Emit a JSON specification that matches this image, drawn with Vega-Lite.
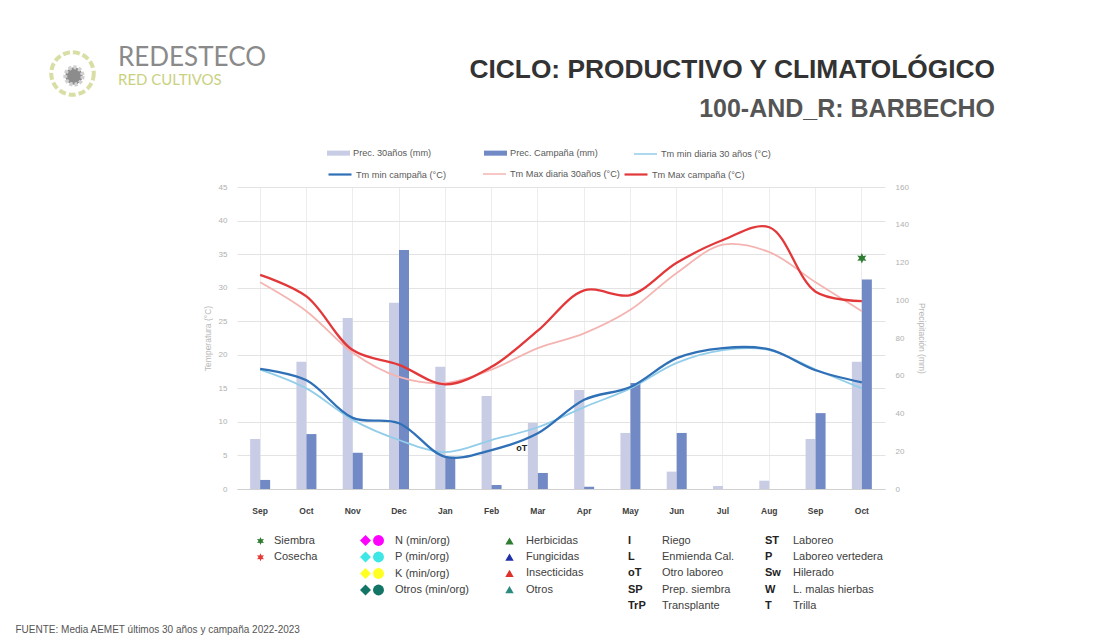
{
  "$schema": "https://vega.github.io/schema/vega-lite/v6.json",
  "width": 648,
  "height": 302,
  "autosize": {"type": "none"},
  "padding": {"left": 237, "top": 187, "right": 231, "bottom": 152},
  "background": "white",
  "config": {"view": {"stroke": null}, "font": "Liberation Sans, sans-serif"},
  "title": {
    "text": "CICLO: PRODUCTIVO Y CLIMATOLÓGICO",
    "subtitle": "100-AND_R: BARBECHO",
    "anchor": "end",
    "frame": "group",
    "dx": 110,
    "offset": -72,
    "font": "Liberation Sans, sans-serif",
    "fontSize": 26.3,
    "fontWeight": "bold",
    "color": "#333333",
    "subtitleFont": "Liberation Sans, sans-serif",
    "subtitleFontSize": 25,
    "subtitleFontWeight": "bold",
    "subtitleColor": "#555555",
    "subtitlePadding": 14
  },
  "datasets": {
    "prec": [
      {"m": "Sep-22", "serie": "Prec. 30años (mm)", "mm": 26.5},
      {"m": "Oct-22", "serie": "Prec. 30años (mm)", "mm": 67.4},
      {"m": "Nov-22", "serie": "Prec. 30años (mm)", "mm": 90.6},
      {"m": "Dec-22", "serie": "Prec. 30años (mm)", "mm": 98.7},
      {"m": "Jan-23", "serie": "Prec. 30años (mm)", "mm": 64.8},
      {"m": "Feb-23", "serie": "Prec. 30años (mm)", "mm": 49.3},
      {"m": "Mar-23", "serie": "Prec. 30años (mm)", "mm": 35.0},
      {"m": "Apr-23", "serie": "Prec. 30años (mm)", "mm": 52.5},
      {"m": "May-23", "serie": "Prec. 30años (mm)", "mm": 29.7},
      {"m": "Jun-23", "serie": "Prec. 30años (mm)", "mm": 9.2},
      {"m": "Jul-23", "serie": "Prec. 30años (mm)", "mm": 1.6},
      {"m": "Aug-23", "serie": "Prec. 30años (mm)", "mm": 4.4},
      {"m": "Sep-23", "serie": "Prec. 30años (mm)", "mm": 26.5},
      {"m": "Oct-23", "serie": "Prec. 30años (mm)", "mm": 67.4},
      {"m": "Sep-22", "serie": "Prec. Campaña (mm)", "mm": 4.8},
      {"m": "Oct-22", "serie": "Prec. Campaña (mm)", "mm": 29.1},
      {"m": "Nov-22", "serie": "Prec. Campaña (mm)", "mm": 19.2},
      {"m": "Dec-22", "serie": "Prec. Campaña (mm)", "mm": 126.6},
      {"m": "Jan-23", "serie": "Prec. Campaña (mm)", "mm": 17.1},
      {"m": "Feb-23", "serie": "Prec. Campaña (mm)", "mm": 2.1},
      {"m": "Mar-23", "serie": "Prec. Campaña (mm)", "mm": 8.5},
      {"m": "Apr-23", "serie": "Prec. Campaña (mm)", "mm": 1.2},
      {"m": "May-23", "serie": "Prec. Campaña (mm)", "mm": 56.2},
      {"m": "Jun-23", "serie": "Prec. Campaña (mm)", "mm": 29.7},
      {"m": "Jul-23", "serie": "Prec. Campaña (mm)", "mm": 0},
      {"m": "Aug-23", "serie": "Prec. Campaña (mm)", "mm": 0},
      {"m": "Sep-23", "serie": "Prec. Campaña (mm)", "mm": 40.2},
      {"m": "Oct-23", "serie": "Prec. Campaña (mm)", "mm": 111.0}
    ],
    "temp": [
      {"m": "Sep-22", "serie": "Tm min diaria 30 años (°C)", "t": 17.8},
      {"m": "Oct-22", "serie": "Tm min diaria 30 años (°C)", "t": 15.0},
      {"m": "Nov-22", "serie": "Tm min diaria 30 años (°C)", "t": 10.3},
      {"m": "Dec-22", "serie": "Tm min diaria 30 años (°C)", "t": 7.3},
      {"m": "Jan-23", "serie": "Tm min diaria 30 años (°C)", "t": 5.5},
      {"m": "Feb-23", "serie": "Tm min diaria 30 años (°C)", "t": 7.3},
      {"m": "Mar-23", "serie": "Tm min diaria 30 años (°C)", "t": 9.2},
      {"m": "Apr-23", "serie": "Tm min diaria 30 años (°C)", "t": 12.2},
      {"m": "May-23", "serie": "Tm min diaria 30 años (°C)", "t": 15.0},
      {"m": "Jun-23", "serie": "Tm min diaria 30 años (°C)", "t": 18.8},
      {"m": "Jul-23", "serie": "Tm min diaria 30 años (°C)", "t": 20.7},
      {"m": "Aug-23", "serie": "Tm min diaria 30 años (°C)", "t": 20.7},
      {"m": "Sep-23", "serie": "Tm min diaria 30 años (°C)", "t": 17.8},
      {"m": "Oct-23", "serie": "Tm min diaria 30 años (°C)", "t": 15.0},
      {"m": "Sep-22", "serie": "Tm min campaña (°C)", "t": 17.9},
      {"m": "Oct-22", "serie": "Tm min campaña (°C)", "t": 16.2},
      {"m": "Nov-22", "serie": "Tm min campaña (°C)", "t": 10.6},
      {"m": "Dec-22", "serie": "Tm min campaña (°C)", "t": 9.8},
      {"m": "Jan-23", "serie": "Tm min campaña (°C)", "t": 4.8},
      {"m": "Feb-23", "serie": "Tm min campaña (°C)", "t": 5.8},
      {"m": "Mar-23", "serie": "Tm min campaña (°C)", "t": 8.3},
      {"m": "Apr-23", "serie": "Tm min campaña (°C)", "t": 13.3},
      {"m": "May-23", "serie": "Tm min campaña (°C)", "t": 15.2},
      {"m": "Jun-23", "serie": "Tm min campaña (°C)", "t": 19.5},
      {"m": "Jul-23", "serie": "Tm min campaña (°C)", "t": 21.0},
      {"m": "Aug-23", "serie": "Tm min campaña (°C)", "t": 20.8},
      {"m": "Sep-23", "serie": "Tm min campaña (°C)", "t": 17.7},
      {"m": "Oct-23", "serie": "Tm min campaña (°C)", "t": 15.9},
      {"m": "Sep-22", "serie": "Tm Max diaria 30años (°C)", "t": 30.8},
      {"m": "Oct-22", "serie": "Tm Max diaria 30años (°C)", "t": 26.5},
      {"m": "Nov-22", "serie": "Tm Max diaria 30años (°C)", "t": 20.3},
      {"m": "Dec-22", "serie": "Tm Max diaria 30años (°C)", "t": 16.7},
      {"m": "Jan-23", "serie": "Tm Max diaria 30años (°C)", "t": 15.8},
      {"m": "Feb-23", "serie": "Tm Max diaria 30años (°C)", "t": 17.8},
      {"m": "Mar-23", "serie": "Tm Max diaria 30años (°C)", "t": 21.0},
      {"m": "Apr-23", "serie": "Tm Max diaria 30años (°C)", "t": 23.2},
      {"m": "May-23", "serie": "Tm Max diaria 30años (°C)", "t": 26.7},
      {"m": "Jun-23", "serie": "Tm Max diaria 30años (°C)", "t": 32.2},
      {"m": "Jul-23", "serie": "Tm Max diaria 30años (°C)", "t": 36.4},
      {"m": "Aug-23", "serie": "Tm Max diaria 30años (°C)", "t": 35.3},
      {"m": "Sep-23", "serie": "Tm Max diaria 30años (°C)", "t": 30.8},
      {"m": "Oct-23", "serie": "Tm Max diaria 30años (°C)", "t": 26.5},
      {"m": "Sep-22", "serie": "Tm Max campaña (°C)", "t": 31.9},
      {"m": "Oct-22", "serie": "Tm Max campaña (°C)", "t": 28.7},
      {"m": "Nov-22", "serie": "Tm Max campaña (°C)", "t": 20.7},
      {"m": "Dec-22", "serie": "Tm Max campaña (°C)", "t": 18.5},
      {"m": "Jan-23", "serie": "Tm Max campaña (°C)", "t": 15.6},
      {"m": "Feb-23", "serie": "Tm Max campaña (°C)", "t": 18.2},
      {"m": "Mar-23", "serie": "Tm Max campaña (°C)", "t": 23.6},
      {"m": "Apr-23", "serie": "Tm Max campaña (°C)", "t": 29.6},
      {"m": "May-23", "serie": "Tm Max campaña (°C)", "t": 28.9},
      {"m": "Jun-23", "serie": "Tm Max campaña (°C)", "t": 33.7},
      {"m": "Jul-23", "serie": "Tm Max campaña (°C)", "t": 37.1},
      {"m": "Aug-23", "serie": "Tm Max campaña (°C)", "t": 39.0},
      {"m": "Sep-23", "serie": "Tm Max campaña (°C)", "t": 29.4},
      {"m": "Oct-23", "serie": "Tm Max campaña (°C)", "t": 28.0}
    ]
  },
  "resolve": {"scale": {"y": "independent", "fill": "independent", "stroke": "independent", "shape": "independent"}},
  "layer": [
    {
      "data": {"name": "prec"},
      "mark": {"type": "bar"},
      "encoding": {
        "x": {
          "field": "m", "type": "ordinal",
          "scale": {"type": "band", "domain": ["Sep-22","Oct-22","Nov-22","Dec-22","Jan-23","Feb-23","Mar-23","Apr-23","May-23","Jun-23","Jul-23","Aug-23","Sep-23","Oct-23"], "paddingInner": 0.568, "paddingOuter": 0.284},
          "axis": {
            "labelExpr": "slice(datum.value, 0, 3)", "labelAngle": 0, "labelFontWeight": "bold", "labelColor": "#404040", "labelFontSize": 8.5,
            "ticks": false, "domainColor": "#d0d0d0", "grid": true, "gridColor": "#ededed", "bandPosition": 0.5, "labelPadding": 17,
            "title": "FUENTE: Media AEMET últimos 30 años y campaña 2022-2023",
            "titleX": -222, "titleY": 143, "titleAlign": "left", "titleAnchor": "start", "titleBaseline": "alphabetic",
            "titleFontSize": 10, "titleColor": "#555555", "titleFontWeight": "normal"
          }
        },
        "xOffset": {"field": "serie", "type": "nominal", "scale": {"domain": ["Prec. 30años (mm)", "Prec. Campaña (mm)"], "paddingInner": 0}},
        "y": {
          "field": "mm", "type": "quantitative",
          "scale": {"domain": [0, 160], "nice": false},
          "axis": {"orient": "right", "values": [0,20,40,60,80,100,120,140,160], "grid": false, "domain": false, "ticks": false,
                   "labelColor": "#b0b0b0", "labelFontSize": 8, "labelPadding": 10,
                   "title": "Precipitación (mm)", "titleColor": "#b8b8b8", "titleFontSize": 8.5, "titleFontWeight": "normal", "titlePadding": 8}
        },
        "fill": {
          "field": "serie", "type": "nominal",
          "scale": {"domain": ["Prec. 30años (mm)", "Prec. Campaña (mm)"], "range": ["#c8cde5", "#7189c4"]},
          "legend": {"orient": "none", "legendX": 90, "legendY": -45.5, "direction": "horizontal", "title": null, "padding": 0,
                     "symbolType": "M-1,-0.22H1V0.22H-1Z", "symbolSize": 529, "symbolStrokeWidth": 0,
                     "labelFontSize": 9.2, "labelColor": "#595959", "labelOffset": 3, "columnPadding": 52}
        }
      }
    },
    {
      "data": {"name": "temp"},
      "transform": [{"filter": "datum.serie === 'Tm min diaria 30 años (°C)'"}],
      "mark": {"type": "line", "interpolate": "catmull-rom", "strokeWidth": 1.8},
      "encoding": {
        "x": {"field": "m", "type": "ordinal"},
        "y": {
          "field": "t", "type": "quantitative", "scale": {"domain": [0, 45], "nice": false},
          "axis": {"orient": "left", "values": [0,5,10,15,20,25,30,35,40,45], "grid": true, "gridColor": "#e3e3e3", "domain": false, "ticks": false,
                   "labelColor": "#b0b0b0", "labelFontSize": 8, "labelPadding": 10,
                   "title": "Temperatura (°C)", "titleColor": "#b8b8b8", "titleFontSize": 8.5, "titleFontWeight": "normal", "titlePadding": 6}
        },
        "stroke": {
          "field": "serie", "type": "nominal",
          "scale": {"domain": ["Tm min diaria 30 años (°C)"], "range": ["#92cdea"]},
          "legend": {"orient": "none", "legendX": 396, "legendY": -45.5, "title": null, "padding": 0, "symbolType": "stroke", "symbolSize": 529, "symbolStrokeWidth": 1.5, "labelFontSize": 9.2, "labelColor": "#595959", "labelOffset": 3}
        }
      }
    },
    {
      "data": {"name": "temp"},
      "transform": [{"filter": "datum.serie === 'Tm Max diaria 30años (°C)'"}],
      "mark": {"type": "line", "interpolate": "catmull-rom", "strokeWidth": 1.8},
      "encoding": {
        "x": {"field": "m", "type": "ordinal"},
        "y": {"field": "t", "type": "quantitative", "scale": {"domain": [0, 45], "nice": false}, "axis": null},
        "stroke": {
          "field": "serie", "type": "nominal",
          "scale": {"domain": ["Tm Max diaria 30años (°C)"], "range": ["#f4b4b2"]},
          "legend": {"orient": "none", "legendX": 245, "legendY": -25.5, "title": null, "padding": 0, "symbolType": "stroke", "symbolSize": 529, "symbolStrokeWidth": 1.5, "labelFontSize": 9.2, "labelColor": "#595959", "labelOffset": 3}
        }
      }
    },
    {
      "data": {"name": "temp"},
      "transform": [{"filter": "datum.serie === 'Tm min campaña (°C)'"}],
      "mark": {"type": "line", "interpolate": "catmull-rom", "strokeWidth": 2.3},
      "encoding": {
        "x": {"field": "m", "type": "ordinal"},
        "y": {"field": "t", "type": "quantitative", "scale": {"domain": [0, 45], "nice": false}, "axis": null},
        "stroke": {
          "field": "serie", "type": "nominal",
          "scale": {"domain": ["Tm min campaña (°C)"], "range": ["#2f70b6"]},
          "legend": {"orient": "none", "legendX": 90, "legendY": -25.5, "title": null, "padding": 0, "symbolType": "stroke", "symbolSize": 529, "symbolStrokeWidth": 2.2, "labelFontSize": 9.2, "labelColor": "#595959", "labelOffset": 3}
        }
      }
    },
    {
      "data": {"name": "temp"},
      "transform": [{"filter": "datum.serie === 'Tm Max campaña (°C)'"}],
      "mark": {"type": "line", "interpolate": "catmull-rom", "strokeWidth": 2.3},
      "encoding": {
        "x": {"field": "m", "type": "ordinal"},
        "y": {"field": "t", "type": "quantitative", "scale": {"domain": [0, 45], "nice": false}, "axis": null},
        "stroke": {
          "field": "serie", "type": "nominal",
          "scale": {"domain": ["Tm Max campaña (°C)"], "range": ["#e2383a"]},
          "legend": {"orient": "none", "legendX": 386, "legendY": -25.5, "title": null, "padding": 0, "symbolType": "stroke", "symbolSize": 529, "symbolStrokeWidth": 2.2, "labelFontSize": 9.2, "labelColor": "#595959", "labelOffset": 3}
        }
      }
    },
    {
      "data": {"values": [{"m": "Oct-23", "evento": "Siembra", "t": 34.4}]},
      "mark": {"type": "point", "filled": true, "size": 110, "opacity": 1, "shape": "M0,-1L0.25,-0.43L0.87,-0.5L0.5,0L0.87,0.5L0.25,0.43L0,1L-0.25,0.43L-0.87,0.5L-0.5,0L-0.87,-0.5L-0.25,-0.43Z"},
      "encoding": {
        "x": {"field": "m", "type": "ordinal"},
        "y": {"field": "t", "type": "quantitative", "scale": {"domain": [0, 45], "nice": false}, "axis": null},
        "fill": {"field": "evento", "type": "nominal", "scale": {"domain": ["Siembra", "Cosecha"], "range": ["#2e7d32", "#e53935"]},
                 "legend": {"orient": "none", "legendX": 18, "legendY": 348.5, "title": null, "padding": 0,
                            "symbolType": "M0,-1L0.25,-0.43L0.87,-0.5L0.5,0L0.87,0.5L0.25,0.43L0,1L-0.25,0.43L-0.87,0.5L-0.5,0L-0.87,-0.5L-0.25,-0.43Z",
                            "symbolSize": 64, "symbolStrokeWidth": 0, "symbolOpacity": 1, "labelFontSize": 11, "labelColor": "#404040", "labelOffset": 8, "rowPadding": 4.2}}
      }
    },
    {
      "data": {"values": [{"m": "Mar-23", "cod": "oT", "t": 6.1}]},
      "mark": {"type": "text", "fontWeight": "bold", "fontSize": 9, "dx": -16, "color": "#222222"},
      "encoding": {
        "x": {"field": "m", "type": "ordinal"},
        "y": {"field": "t", "type": "quantitative", "scale": {"domain": [0, 45], "nice": false}, "axis": null},
        "text": {"field": "cod"}
      }
    },
    {
      "data": {"values": []},
      "mark": {"type": "point", "filled": true, "opacity": 1},
      "encoding": {
        "fill": {"field": "fert", "type": "nominal", "scale": {"domain": ["N (min/org)", "P (min/org)", "K (min/org)", "Otros (min/org)"], "range": ["#ff00ff", "#3fe6e6", "#ffff22", "#127566"]},
                 "legend": {"orient": "none", "legendX": 123, "legendY": 348, "title": null, "padding": 0, "symbolType": "diamond", "symbolSize": 120, "symbolStrokeWidth": 0, "symbolOpacity": 1, "labelExpr": "''", "labelFontSize": 11, "rowPadding": 4.5}}
      }
    },
    {
      "data": {"values": []},
      "mark": {"type": "point", "filled": true, "opacity": 1},
      "encoding": {
        "fill": {"field": "fert", "type": "nominal", "scale": {"domain": ["N (min/org)", "P (min/org)", "K (min/org)", "Otros (min/org)"], "range": ["#ff00ff", "#3fe6e6", "#ffff22", "#127566"]},
                 "legend": {"orient": "none", "legendX": 136, "legendY": 348, "title": null, "padding": 0, "symbolType": "circle", "symbolSize": 120, "symbolStrokeWidth": 0, "symbolOpacity": 1, "labelFontSize": 11, "labelColor": "#404040", "labelOffset": 11, "rowPadding": 4.5}}
      }
    },
    {
      "data": {"values": []},
      "mark": {"type": "point", "filled": true, "opacity": 1},
      "encoding": {
        "fill": {"field": "fito", "type": "nominal", "scale": {"domain": ["Herbicidas", "Fungicidas", "Insecticidas", "Otros"], "range": ["#2e7d32", "#1f2fa8", "#e0302a", "#2a8a7e"]},
                 "legend": {"orient": "none", "legendX": 267, "legendY": 348.5, "title": null, "padding": 0, "symbolType": "triangle-up", "symbolSize": 70, "symbolStrokeWidth": 0, "symbolOpacity": 1, "labelFontSize": 11, "labelColor": "#404040", "labelOffset": 11, "rowPadding": 4.2}}
      }
    },
    {
      "data": {"values": []},
      "mark": {"type": "point", "filled": true},
      "encoding": {
        "fill": {"field": "cod4", "type": "nominal", "scale": {"domain": ["I", "L", "oT", "SP", "TrP"], "range": ["#ffffff"]},
                 "legend": {"orient": "none", "legendX": 380, "legendY": 348.5, "title": null, "padding": 0, "symbolSize": 4, "symbolOpacity": 0, "labelFontSize": 11, "labelFontWeight": "bold", "labelColor": "#222222", "labelOffset": 0, "rowPadding": 4.2}}
      }
    },
    {
      "data": {"values": []},
      "mark": {"type": "point", "filled": true},
      "encoding": {
        "fill": {"field": "lab4", "type": "nominal", "scale": {"domain": ["Riego", "Enmienda Cal.", "Otro laboreo", "Prep. siembra", "Transplante"], "range": ["#ffffff"]},
                 "legend": {"orient": "none", "legendX": 414, "legendY": 348.5, "title": null, "padding": 0, "symbolSize": 4, "symbolOpacity": 0, "labelFontSize": 11, "labelColor": "#404040", "labelOffset": 0, "rowPadding": 4.2}}
      }
    },
    {
      "data": {"values": []},
      "mark": {"type": "point", "filled": true},
      "encoding": {
        "fill": {"field": "cod5", "type": "nominal", "scale": {"domain": ["ST", "P", "Sw", "W", "T"], "range": ["#ffffff"]},
                 "legend": {"orient": "none", "legendX": 517, "legendY": 348.5, "title": null, "padding": 0, "symbolSize": 4, "symbolOpacity": 0, "labelFontSize": 11, "labelFontWeight": "bold", "labelColor": "#222222", "labelOffset": 0, "rowPadding": 4.2}}
      }
    },
    {
      "data": {"values": []},
      "mark": {"type": "point", "filled": true},
      "encoding": {
        "fill": {"field": "lab5", "type": "nominal", "scale": {"domain": ["Laboreo", "Laboreo vertedera", "Hilerado", "L. malas hierbas", "Trilla"], "range": ["#ffffff"]},
                 "legend": {"orient": "none", "legendX": 545, "legendY": 348.5, "title": null, "padding": 0, "symbolSize": 4, "symbolOpacity": 0, "labelFontSize": 11, "labelColor": "#404040", "labelOffset": 0, "rowPadding": 4.2}}
      }
    },
    {
      "data": {"values": []},
      "mark": {"type": "point", "filled": true},
      "encoding": {
        "fill": {"field": "logo", "type": "nominal", "scale": {"domain": ["REDESTECO", "RED CULTIVOS"], "range": ["#ffffff"]},
                 "legend": {"orient": "none", "legendX": -134, "legendY": -137, "title": null, "padding": 0, "symbolSize": 4, "symbolOpacity": 0,
                            "labelFont": "Lato", "labelFontSize": 22, "labelColor": "#8c8c8c", "labelOffset": 0, "rowPadding": 1.5,
                            "encode": {"labels": {"update": {"fontSize": {"signal": "datum.value === 'REDESTECO' ? 26 : 15"}, "fill": {"signal": "datum.value === 'REDESTECO' ? '#8a8a8a' : '#c9d17f'"}}}}}}
      }
    },
    {
      "data": {"values": []},
      "mark": {"type": "point", "filled": true},
      "encoding": {
        "fill": {"field": "logoring", "type": "nominal", "scale": {"domain": [" "], "range": ["#ffffff"]},
                 "legend": {"orient": "none", "legendX": -188, "legendY": -137, "title": null, "padding": 0, "symbolType": "circle", "symbolSize": 1810,
                            "symbolStrokeColor": "#c9d17f", "symbolStrokeWidth": 4, "symbolDash": [7, 3], "labelFontSize": 1}}
      }
    },
    {
      "data": {"values": []},
      "mark": {"type": "point", "filled": true},
      "encoding": {
        "fill": {"field": "logocore", "type": "nominal", "scale": {"domain": ["  "], "range": ["#5c5c5c"]},
                 "legend": {"orient": "none", "legendX": -174, "legendY": -122, "title": null, "padding": 0, "symbolType": "circle", "symbolSize": 300,
                            "symbolStrokeColor": "#bdbdbd", "symbolStrokeWidth": 4, "symbolDash": [3, 2], "labelFontSize": 1}}
      }
    }
  ]
}
